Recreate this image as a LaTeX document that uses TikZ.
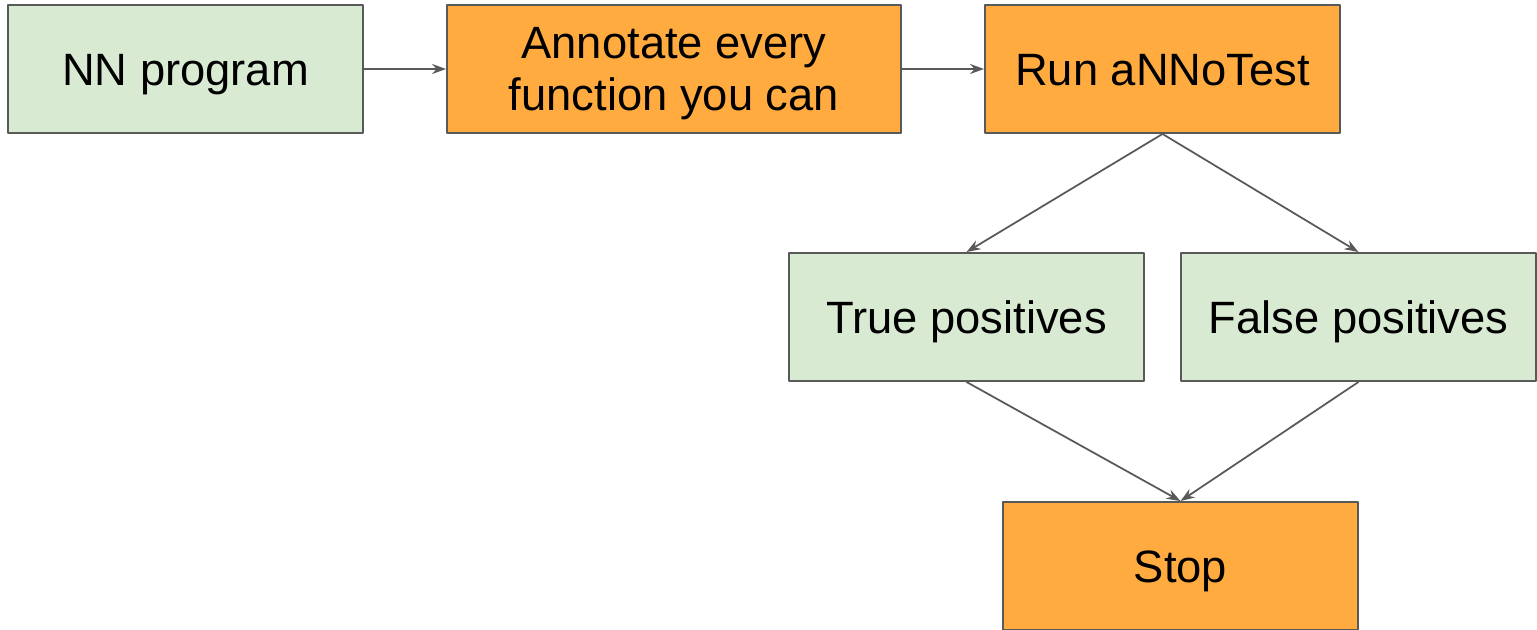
\documentclass[tikz,border=0pt]{standalone}
\usepackage{fontspec}
\setmainfont{Liberation Sans}
\usetikzlibrary{arrows.meta}
\definecolor{boxgreen}{HTML}{D9EAD3}
\definecolor{boxorange}{HTML}{FFAB40}
\definecolor{edgegray}{HTML}{595959}
\begin{document}
\begin{tikzpicture}[x=0.02cm, y=-0.02cm, line join=round,
	>={Stealth[length=0.28cm,width=0.2cm]},
	box/.style={draw=edgegray, line width=1.1pt, minimum width=7.1cm,
		minimum height=2.56cm, inner sep=0pt, align=center,
		text height=18.5pt, text depth=0pt,
		font=\fontsize{25.8}{30}\selectfont},
	greenbox/.style={box, fill=boxgreen},
	orangebox/.style={box, fill=boxorange},
	link/.style={->, draw=edgegray, line width=1pt}]
	\def \xmax{1537}
	\def \ymax{629}
	\clip (0,0) rectangle (\xmax,\ymax);
	% top row
	\node[greenbox] (prog) at (185.5,69) {NN program};
	\node[orangebox, minimum width=9.08cm, text height=] (annot) at (674,69) {Annotate every\\function you can};
	\node[orangebox] (run) at (1162.5,69) {Run aNNoTest};
	% results
	\node[greenbox] (truep) at (966.5,317) {True positives};
	\node[greenbox] (falsep) at (1358.5,317) {False positives};
	\node[orangebox] (stop) at (1180.5,566) {Stop};
	\draw[link] (prog) -- (annot);
	\draw[link] (annot) -- (run);
	\foreach \t in {truep,falsep}
	\draw[link] (run.south) -- (\t.north);
	\foreach \t in {truep,falsep}
	\draw[link] (\t.south) -- (stop.north);
\end{tikzpicture}
\end{document}
